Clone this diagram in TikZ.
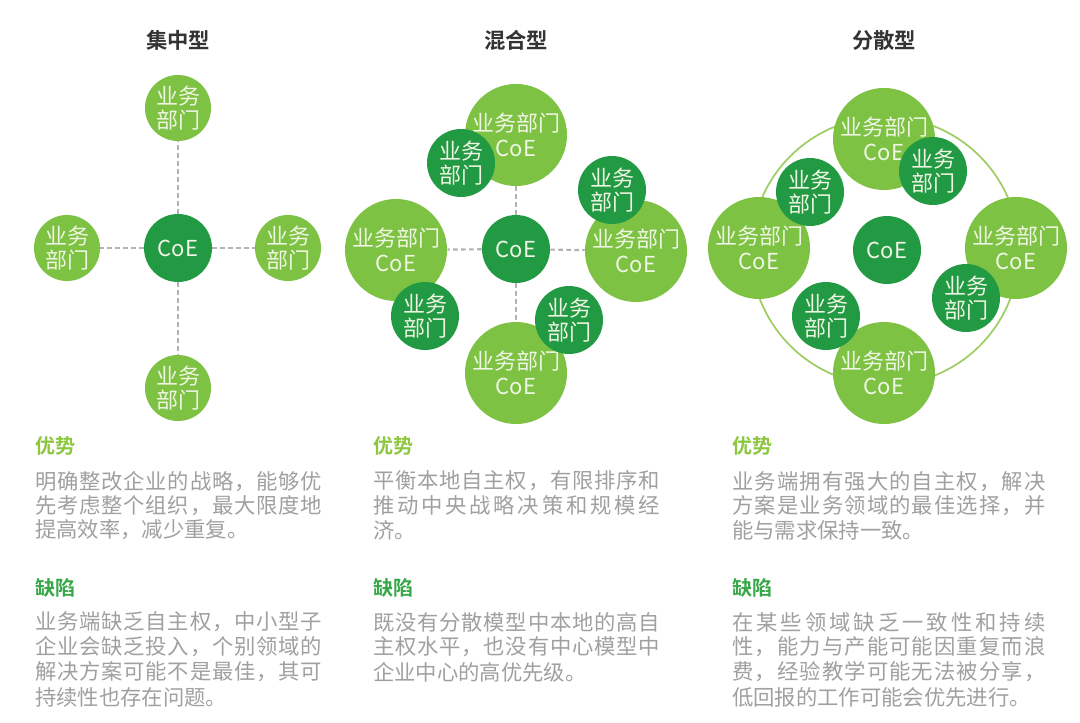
\documentclass[tikz,border=0pt]{standalone}
\usepackage{fontspec}
\setmainfont{Noto Sans CJK SC}[BoldFont={Noto Sans CJK SC Bold}]
\definecolor{lgreen}{RGB}{125,194,66}
\definecolor{dgreen}{RGB}{34,153,67}
\definecolor{ctext}{RGB}{240,246,228}
\definecolor{titlec}{RGB}{51,51,51}
\definecolor{headA}{RGB}{141,198,63}
\definecolor{headB}{RGB}{57,168,74}
\definecolor{bodyc}{RGB}{160,160,160}
\definecolor{dashc}{RGB}{178,178,178}
\definecolor{ringc}{RGB}{160,206,100}
\def\spx#1{\ifx\relax#1\else#1\hfil\expandafter\spx\fi}
\newcommand\jl[2]{\hbox to #1{\spx#2\relax\unskip}}
\tikzset{
  circtext/.style={circle, inner sep=0pt, text=ctext, align=center, font=\fontsize{16.5}{18.5}\selectfont},
  smallL/.style={circtext, fill=lgreen, minimum size=49.5pt},
  smallD/.style={circtext, fill=dgreen, minimum size=51pt},
  bigL/.style={circtext, fill=lgreen, minimum size=76.5pt},
  link/.style={draw=dashc, line width=1.6pt, dash pattern=on 3.5pt off 2.5pt},
  ring/.style={draw=ringc, line width=1.3pt},
  title/.style={font=\fontsize{16}{18}\selectfont\bfseries, text=titlec},
  headA/.style={anchor=west, inner sep=0pt, font=\fontsize{15}{18}\selectfont\bfseries, text=headA},
  headB/.style={anchor=west, inner sep=0pt, font=\fontsize{15}{18}\selectfont\bfseries, text=headB},
  body/.style={anchor=west, inner sep=0pt, font=\fontsize{16}{19}\selectfont, text=bodyc}
}
\begin{document}
\begin{tikzpicture}[x=0.75pt,y=-0.75pt]
\useasboundingbox (0,0) rectangle (1080,723);
\fill[white] (0,0) rectangle (1080,723);

% titles
\node[title] (t1) at (178,40) {集中型};
\node[title] (t2) at (516,40) {混合型};
\node[title] (t3) at (884,40) {分散型};

% ---- column 1
\node[smallL] (c1t) at (178,108) {业务\\部门};
\node[smallD] (c1c) at (178,248) {CoE};
\node[smallL] (c1l) at (67,248) {业务\\部门};
\node[smallL] (c1r) at (288,248) {业务\\部门};
\node[smallL] (c1b) at (178,388) {业务\\部门};
\draw[link] (c1c) -- (c1t);
\draw[link] (c1c) -- (c1l);
\draw[link] (c1c) -- (c1r);
\draw[link] (c1c) -- (c1b);

% ---- column 2
\node[bigL] (c2T) at (516,135) {业务部门\\CoE};
\node[bigL] (c2L) at (396,250) {业务部门\\CoE};
\node[bigL] (c2R) at (636,251) {业务部门\\CoE};
\node[bigL] (c2B) at (516,373) {业务部门\\CoE};
\node[smallD] (c2c) at (516,249) {CoE};
\draw[link] (c2c) -- (c2T);
\draw[link] (c2c) -- (c2L);
\draw[link] (c2c) -- (c2R);
\draw[link] (c2c) -- (c2B);
\node[smallD] (c2Ts) at (461,163) {业务\\部门};
\node[smallD] (c2Ls) at (425,316) {业务\\部门};
\node[smallD] (c2Rs) at (612,190) {业务\\部门};
\node[smallD] (c2Bs) at (569,320) {业务\\部门};

% ---- column 3
\coordinate (rc) at (885,251);
\draw[ring] (rc) circle[radius=134];
\node[bigL] (c3T) at (884,139) {业务部门\\CoE};
\node[bigL] (c3L) at (759,248) {业务部门\\CoE};
\node[bigL] (c3R) at (1016,248) {业务部门\\CoE};
\node[bigL] (c3B) at (884,373) {业务部门\\CoE};
\node[smallD] (c3c) at (887,250) {CoE};
\node[smallD] (c3Ts) at (933,171) {业务\\部门};
\node[smallD] (c3Ls) at (810,192) {业务\\部门};
\node[smallD] (c3Rs) at (966,298) {业务\\部门};
\node[smallD] (c3Bs) at (826,316) {业务\\部门};

% ---- texts column 1
\node[headA] (a1h) at (35,446) {优势};
\node[body] (a1a) at (35,482) {\jl{215pt}{明确整改企业的战略，能够优}};
\node[body] (a1b) at (35,506) {\jl{215pt}{先考虑整个组织，最大限度地}};
\node[body] (a1c) at (35,530) {提高效率，减少重复。};
\node[headB] (b1h) at (35,588) {缺陷};
\node[body] (b1a) at (35,622) {\jl{215pt}{业务端缺乏自主权，中小型子}};
\node[body] (b1b) at (35,647) {\jl{215pt}{企业会缺乏投入，个别领域的}};
\node[body] (b1c) at (35,672) {\jl{215pt}{解决方案可能不是最佳，其可}};
\node[body] (b1d) at (35,697) {持续性也存在问题。};

% ---- texts column 2
\node[headA] (a2h) at (373,446) {优势};
\node[body] (a2a) at (373,481) {\jl{215pt}{平衡本地自主权，有限排序和}};
\node[body] (a2b) at (373,505) {\jl{215pt}{推动中央战略决策和规模经}};
\node[body] (a2c) at (373,530) {济。};
\node[headB] (b2h) at (373,588) {缺陷};
\node[body] (b2a) at (373,622) {\jl{215pt}{既没有分散模型中本地的高自}};
\node[body] (b2b) at (373,647) {\jl{215pt}{主权水平，也没有中心模型中}};
\node[body] (b2c) at (373,672) {企业中心的高优先级。};

% ---- texts column 3
\node[headA] (a3h) at (732,446) {优势};
\node[body] (a3a) at (732,482) {\jl{235pt}{业务端拥有强大的自主权，解决}};
\node[body] (a3b) at (732,506) {\jl{235pt}{方案是业务领域的最佳选择，并}};
\node[body] (a3c) at (732,530) {能与需求保持一致。};
\node[headB] (b3h) at (732,588) {缺陷};
\node[body] (b3a) at (732,622) {\jl{235pt}{在某些领域缺乏一致性和持续}};
\node[body] (b3b) at (732,647) {\jl{235pt}{性，能力与产能可能因重复而浪}};
\node[body] (b3c) at (732,672) {\jl{235pt}{费，经验教学可能无法被分享，}};
\node[body] (b3d) at (732,697) {低回报的工作可能会优先进行。};
\end{tikzpicture}
\end{document}
